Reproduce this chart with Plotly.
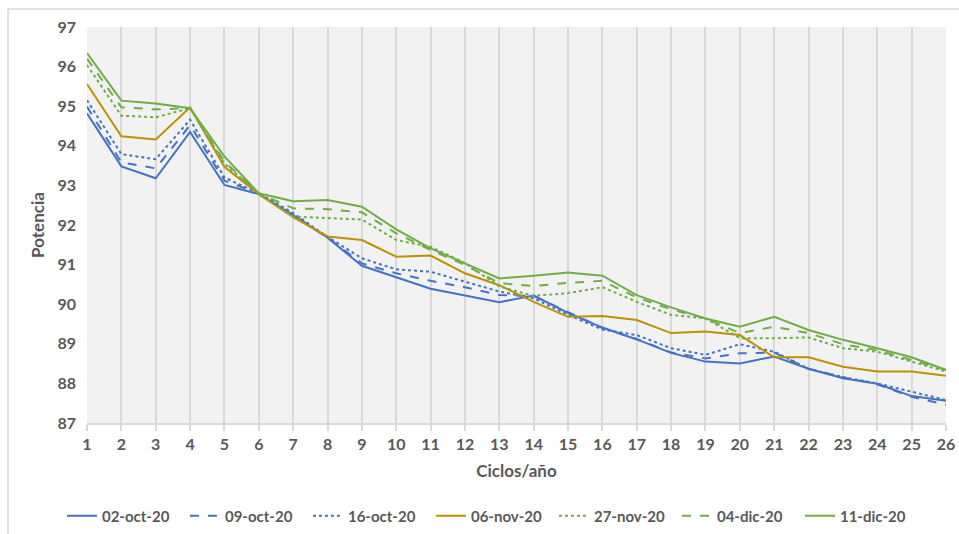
import plotly.graph_objects as go

ciclos = list(range(1, 27))

s_02oct = [94.82, 93.48, 93.18, 94.35, 93.01, 92.78, 92.25, 91.68, 90.97, 90.68, 90.39, 90.22, 90.05, 90.22,
           89.78, 89.41, 89.11, 88.77, 88.55, 88.50, 88.68, 88.37, 88.13, 87.99, 87.68, 87.56]
s_09oct = [94.99, 93.58, 93.43, 94.52, 93.12, 92.80, 92.25, 91.68, 91.03, 90.78, 90.59, 90.43, 90.23, 90.21,
           89.80, 89.40, 89.12, 88.78, 88.63, 88.76, 88.78, 88.37, 88.15, 87.98, 87.66, 87.46]
s_16oct = [95.15, 93.79, 93.66, 94.66, 93.20, 92.80, 92.30, 91.70, 91.16, 90.88, 90.82, 90.57, 90.32, 90.15,
           89.73, 89.36, 89.22, 88.89, 88.72, 88.99, 88.80, 88.37, 88.16, 88.00, 87.79, 87.58]
s_06nov = [95.56, 94.24, 94.16, 94.97, 93.47, 92.78, 92.20, 91.71, 91.62, 91.20, 91.23, 90.78, 90.48, 90.06,
           89.68, 89.70, 89.60, 89.27, 89.31, 89.22, 88.66, 88.66, 88.42, 88.30, 88.30, 88.19]
s_27nov = [96.04, 94.76, 94.72, 94.95, 93.55, 92.80, 92.21, 92.17, 92.14, 91.62, 91.45, 91.04, 90.45, 90.21,
           90.28, 90.43, 90.06, 89.73, 89.64, 89.14, 89.14, 89.16, 88.89, 88.80, 88.55, 88.30]
s_04dic = [96.20, 94.97, 94.92, 94.95, 93.60, 92.80, 92.42, 92.40, 92.32, 91.79, 91.37, 90.99, 90.53, 90.46,
           90.54, 90.59, 90.17, 89.87, 89.64, 89.27, 89.43, 89.27, 88.99, 88.84, 88.59, 88.34]
s_11dic = [96.34, 95.14, 95.07, 94.95, 93.73, 92.80, 92.60, 92.63, 92.46, 91.89, 91.41, 91.03, 90.65, 90.72,
           90.80, 90.72, 90.23, 89.92, 89.64, 89.43, 89.68, 89.35, 89.10, 88.89, 88.66, 88.34]

series_names = ["02-oct-20", "09-oct-20", "16-oct-20", "06-nov-20", "27-nov-20", "04-dic-20", "11-dic-20"]
series_values = [s_02oct, s_09oct, s_16oct, s_06nov, s_27nov, s_04dic, s_11dic]
colors = ["#4472C4", "#4472C4", "#4472C4", "#BF9000", "#70AD47", "#70AD47", "#70AD47"]
dashes = ["solid", "dash", "dot", "solid", "dot", "dash", "solid"]

fig = go.Figure()
for name, vals, c, d in zip(series_names, series_values, colors, dashes):
    fig.add_trace(go.Scatter(x=ciclos, y=vals, mode="lines", name=name,
                             line=dict(color=c, width=2, dash=d)))

font_fam = "Lato, Open Sans, sans-serif"
gray = "#595959"

fig.update_layout(
    width=959, height=534,
    margin=dict(l=87, r=13, t=27, b=111, autoexpand=False),
    paper_bgcolor="white",
    plot_bgcolor="#F2F2F2",
    font=dict(family=font_fam, color=gray, size=14),
    showlegend=True,
    legend=dict(orientation="h", x=0.472, xanchor="center", y=-0.235, yanchor="middle",
                font=dict(size=15, color=gray, family=font_fam, weight="bold"),
                entrywidth=78, entrywidthmode="pixels", itemwidth=30, tracegroupgap=0),
    xaxis=dict(range=[1, 26], tickmode="array", tickvals=ciclos, automargin=False,
               showgrid=True, gridcolor="#D9D9D9", gridwidth=1.5,
               showline=True, linecolor="#D9D9D9", linewidth=1.5,
               ticks="outside", tickcolor="#D9D9D9", ticklen=6, tickwidth=1.5,
               zeroline=False,
               tickfont=dict(size=16, color=gray, family=font_fam, weight="bold"),
               title=dict(text="Ciclos/año", standoff=13,
                          font=dict(size=17, color=gray, family=font_fam, weight="bold"))),
    yaxis=dict(range=[87, 97], dtick=1, showgrid=False, showline=False, zeroline=False,
               ticks="", ticklabelstandoff=10, automargin=False,
               tickfont=dict(size=16, color=gray, family=font_fam, weight="bold"),
               title=dict(text="Potencia", standoff=8,
                          font=dict(size=17, color=gray, family=font_fam, weight="bold"))),
    shapes=[dict(type="rect", xref="paper", yref="paper",
                 x0=(8 - 87) / 859, x1=(970 - 87) / 859,
                 y0=(423 - 545) / 396, y1=(423 - 9) / 396,
                 line=dict(color="#D9D9D9", width=1.5), fillcolor="rgba(0,0,0,0)", layer="below")],
)

fig.write_html("out.html")
